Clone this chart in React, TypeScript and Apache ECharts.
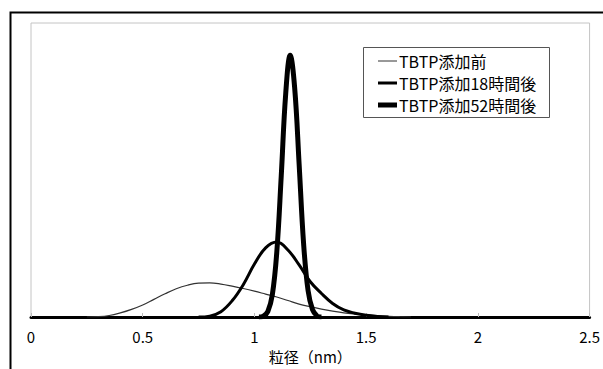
import React, { useEffect, useRef } from "react";
import * as echarts from "echarts";

const seriesNames = ["TBTP添加前", "TBTP添加18時間後", "TBTP添加52時間後"];
const legendWidths = [1, 3, 5];

const xBefore = [0.25, 0.3, 0.35, 0.4, 0.45, 0.5, 0.55, 0.6, 0.65, 0.7, 0.75, 0.8, 0.85, 0.9, 0.95, 1.0, 1.05, 1.1, 1.15, 1.2, 1.25, 1.3, 1.35, 1.4, 1.45, 1.5, 1.55, 1.6, 1.65, 1.7];
const yBefore = [0, 0.1, 0.5, 1.4, 2.6, 4.1, 6.0, 7.9, 9.6, 10.8, 11.5, 11.6, 11.2, 10.5, 9.7, 8.8, 7.8, 6.8, 5.6, 4.4, 3.5, 2.7, 2.0, 1.4, 1.0, 0.7, 0.45, 0.25, 0.1, 0];

const x18h = [0.75, 0.8, 0.85, 0.9, 0.95, 1.0, 1.05, 1.1, 1.15, 1.2, 1.25, 1.3, 1.35, 1.4, 1.45, 1.5, 1.55, 1.6];
const y18h = [0, 0.3, 1.8, 5.5, 11, 18, 23.5, 25.5, 22.8, 17.7, 12, 8, 4.6, 2.4, 1.3, 0.6, 0.2, 0];

const x52h = [1.02, 1.04, 1.06, 1.08, 1.1, 1.12, 1.14, 1.16, 1.18, 1.2, 1.22, 1.24, 1.26, 1.28, 1.3];
const y52h = [0, 0.3, 1.9, 7.5, 22, 48, 76, 89, 78, 52, 25, 9, 2.5, 0.4, 0];

const xTicks = [0, 0.5, 1, 1.5, 2, 2.5];
const xAxisTitle = "粒径（nm）";

const pairs = (xs: number[], ys: number[]) => xs.map((x, i) => [x, ys[i]]);

export default function App() {
  const ref = useRef<HTMLDivElement>(null);
  useEffect(() => {
    if (!ref.current) return;
    const chart = echarts.init(ref.current, null, { renderer: "svg" });
    const font = "'Noto Sans CJK JP', 'Noto Sans', sans-serif";
    const legendRowY = [61, 83, 105];
    const legendGraphics: any[] = [];
    seriesNames.forEach((name, i) => {
      legendGraphics.push({
        type: "line",
        shape: { x1: 378, y1: legendRowY[i], x2: 397, y2: legendRowY[i] },
        style: { stroke: i === 0 ? "#333" : "#000", lineWidth: legendWidths[i] },
        silent: true,
      });
      legendGraphics.push({
        type: "text",
        x: 399,
        y: legendRowY[i],
        style: {
          text: name,
          fontSize: 16,
          fontFamily: font,
          fill: "#000",
          verticalAlign: "middle",
          align: "left",
        },
        silent: true,
      });
    });
    chart.setOption({
      animation: false,
      backgroundColor: "#ffffff",
      textStyle: { fontFamily: font },
      grid: {
        left: 31,
        top: 23,
        right: 12,
        bottom: 52,
        show: true,
        borderColor: "#c4c4c4",
        borderWidth: 1,
      },
      xAxis: {
        type: "value",
        min: xTicks[0],
        max: xTicks[xTicks.length - 1],
        interval: 0.5,
        name: xAxisTitle,
        nameLocation: "middle",
        nameGap: 32,
        nameTextStyle: { fontSize: 15, color: "#000", fontFamily: font },
        axisLine: { lineStyle: { color: "#000", width: 3 } },
        axisTick: { show: true, inside: true, length: 4, lineStyle: { color: "#bbb" } },
        axisLabel: { fontSize: 15, color: "#000", margin: 12, fontFamily: font },
        splitLine: { show: false },
      },
      yAxis: {
        type: "value",
        min: 0,
        max: 100,
        show: false,
        splitLine: { show: false },
      },
      graphic: [
        {
          type: "rect",
          left: 8,
          top: 10,
          shape: { x: 0, y: 0, width: 640, height: 420 },
          style: { fill: "none", stroke: "#000", lineWidth: 2 },
          silent: true,
        },
        {
          type: "rect",
          shape: { x: 363.5, y: 47.5, width: 186, height: 70 },
          style: { fill: "#fff", stroke: "#555", lineWidth: 1 },
          z: 10,
          silent: true,
        },
        ...legendGraphics.map((g) => ({ ...g, z: 11 })),
      ],
      series: [
        {
          name: seriesNames[0],
          type: "line",
          data: pairs(xBefore, yBefore),
          smooth: 0.4,
          symbol: "none",
          lineStyle: { color: "#333", width: 1.2 },
          itemStyle: { color: "#333" },
          z: 3,
        },
        {
          name: seriesNames[1],
          type: "line",
          data: pairs(x18h, y18h),
          smooth: 0.4,
          symbol: "none",
          lineStyle: { color: "#000", width: 3 },
          itemStyle: { color: "#000" },
          z: 4,
        },
        {
          name: seriesNames[2],
          type: "line",
          data: pairs(x52h, y52h),
          smooth: 0.4,
          symbol: "none",
          lineStyle: { color: "#000", width: 5 },
          itemStyle: { color: "#000" },
          z: 5,
        },
      ],
    });
    return () => chart.dispose();
  }, []);
  return (
    <div
      ref={ref}
      style={{ position: "fixed", left: 0, top: 0, width: 603, height: 369 }}
    />
  );
}
